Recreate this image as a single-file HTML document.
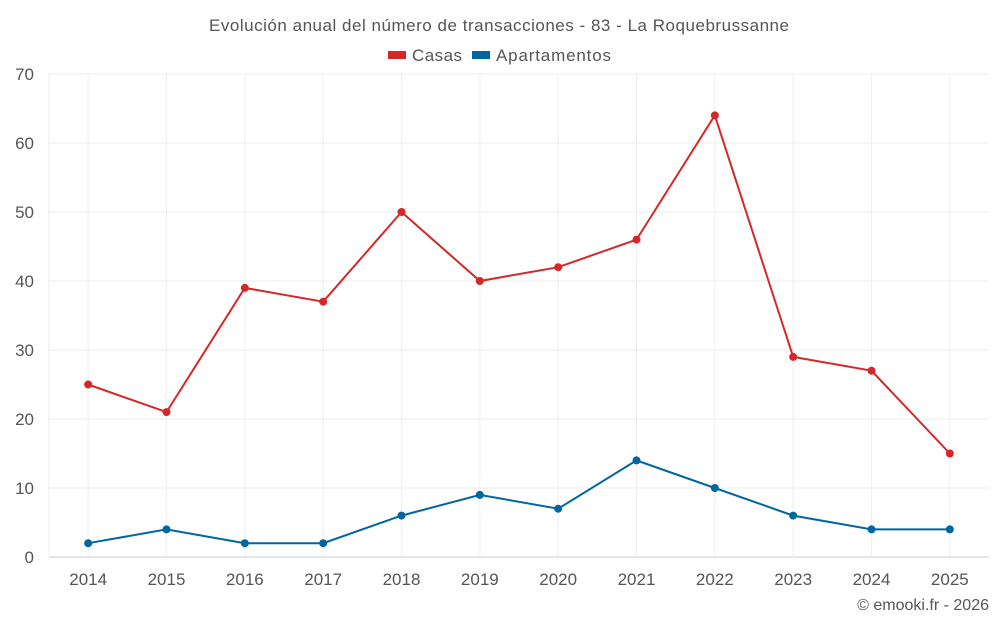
<!DOCTYPE html>
<html><head><meta charset="utf-8"><style>
body{margin:0;background:#fff;font-family:"Liberation Sans",sans-serif;}
svg text{font-family:"Liberation Sans",sans-serif;}
</style></head><body>
<svg id="c" width="1000" height="625">
<text x="499" y="31" text-anchor="middle" font-size="17" textLength="580" fill="#555">Evolución anual del número de transacciones - 83 - La Roquebrussanne</text>
<g>
<g><rect x="388" y="51" width="18" height="8" fill="#d62728"/><text x="412" y="61" font-size="17" textLength="50" fill="#555">Casas</text></g>
<g><rect x="472" y="51" width="18" height="8" fill="#0066a0"/><text x="496" y="61" font-size="17" textLength="115" fill="#555">Apartamentos</text></g>
</g>
<g id="grid"></g><g id="axes"></g><g id="series"></g>
<text x="989" y="610" text-anchor="end" font-size="16" fill="#555">© emooki.fr - 2026</text>
</svg>
<script>
const years=["2014","2015","2016","2017","2018","2019","2020","2021","2022","2023","2024","2025"];
const casas=[25,21,39,37,50,40,42,46,64,29,27,15];
const apartamentos=[2,4,2,2,6,9,7,14,10,6,4,4];
const yTicks=[0,10,20,30,40,50,60,70];
const L=49,R=989,T=74,B=557,yMax=70;
const bw=(R-L)/years.length;
const xs=i=>L+bw*(i+0.5);
const ys=v=>B-(v/yMax)*(B-T);
const NS="http://www.w3.org/2000/svg";
function mk(t,a,p){const e=document.createElementNS(NS,t);for(const k in a)e.setAttribute(k,a[k]);p.appendChild(e);return e;}
const g=document.getElementById('grid'),ax=document.getElementById('axes'),s=document.getElementById('series');
yTicks.forEach(v=>{
 const l=mk('line',{x1:L,x2:R,y1:ys(v),y2:ys(v),stroke:v===0?'#ccc':'#eee'},g);
 
 
 const t=mk('text',{x:34,y:ys(v)+6,'text-anchor':'end','font-size':17,fill:'#555'},ax);
 t.textContent=v;
 
 
});
years.forEach((y,i)=>{
 const l=mk('line',{x1:xs(i),x2:xs(i),y1:T,y2:B,stroke:'#eee'},g);
 
 
 const t=mk('text',{x:xs(i),y:585,'text-anchor':'middle','font-size':17,fill:'#555'},ax);
 t.textContent=y;
 
 
});
const lg=mk('line',{x1:L,x2:L,y1:T,y2:B,stroke:'#eee'},g);


function series(data,color,name){
 const p=mk('polyline',{points:data.map((v,i)=>xs(i)+','+ys(v)).join(' '),fill:'none',stroke:color,'stroke-width':2},s);
 
 
 data.forEach((v,i)=>{
  const c=mk('circle',{cx:xs(i),cy:ys(v),r:4,fill:color},s);
  
  
 });
}
series(casas,'#d62728','casas');
series(apartamentos,'#0066a0','apartamentos');
</script>
</body></html>
